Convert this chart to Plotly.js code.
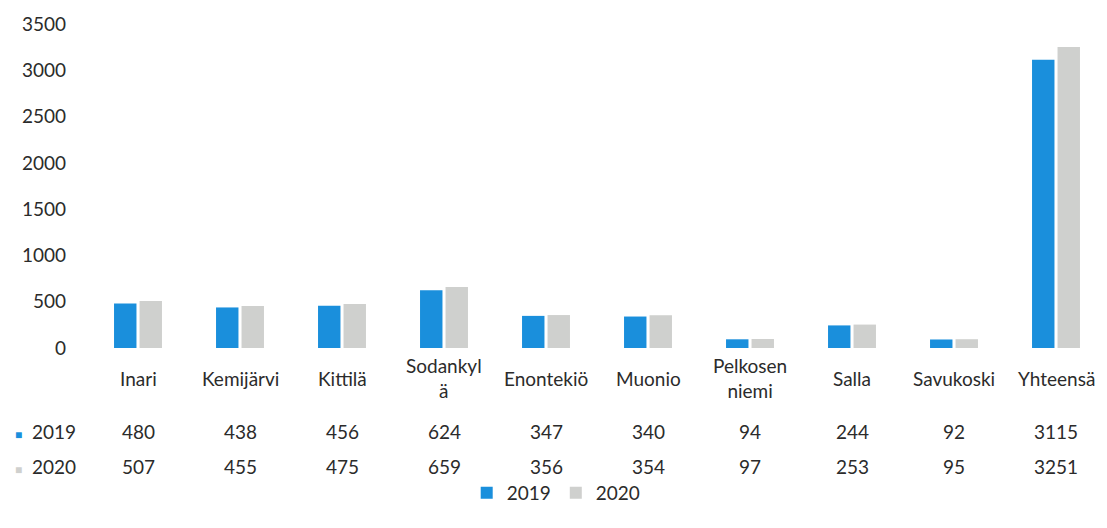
<!DOCTYPE html>
<html>
<head>
<meta charset="utf-8">
<script src="https://cdn.plot.ly/plotly-3.0.1.min.js"></script>
<style>
  html, body { margin: 0; padding: 0; background: #ffffff; }
  #chart { width: 1107px; height: 528px; }
</style>
</head>
<body>
<div id="chart"></div>
<script>
const categories = ["Inari", "Kemijärvi", "Kittilä", "Sodankylä", "Enontekiö", "Muonio", "Pelkosenniemi", "Salla", "Savukoski", "Yhteensä"];
const categoryLabels = ["Inari", "Kemijärvi", "Kittilä", "Sodankyl<br>ä", "Enontekiö", "Muonio", "Pelkosen<br>niemi", "Salla", "Savukoski", "Yhteensä"];
const values2019 = [480, 438, 456, 624, 347, 340, 94, 244, 92, 3115];
const values2020 = [507, 455, 475, 659, 356, 354, 97, 253, 95, 3251];
const yTicks = [0, 500, 1000, 1500, 2000, 2500, 3000, 3500];

const blue = "#1a8fdc";
const gray = "#cfd0ce";
const textColor = "#2b2b2b";
const font = "Lato, 'Open Sans', sans-serif";

// paper y for a pixel row; plot area runs from 24px to 348px
function rowY(py) {
  return (348 - py) / 324;
}

const traces = [
  { x: categories, y: values2019, type: "bar", name: "2019", marker: { color: blue } },
  { x: categories, y: values2020, type: "bar", name: "2020", marker: { color: gray } },
];

// data table under the axis
const annotations = [];
categories.forEach((cat, i) => {
  annotations.push({ x: cat, xref: "x", y: rowY(378), yref: "paper", yanchor: "middle", text: categoryLabels[i], showarrow: false });
  annotations.push({ x: cat, xref: "x", y: rowY(431), yref: "paper", yanchor: "middle", text: String(values2019[i]), showarrow: false });
  annotations.push({ x: cat, xref: "x", y: rowY(466), yref: "paper", yanchor: "middle", text: String(values2020[i]), showarrow: false });
});
[["2019", blue, 431], ["2020", gray, 466]].forEach(([name, color, py]) => {
  annotations.push({
    x: 0, xref: "paper", xshift: -74, xanchor: "left",
    y: rowY(py), yref: "paper", yanchor: "middle",
    text: "<span style='color:" + color + ";font-size:12px'>■</span>  " + name,
    showarrow: false,
  });
});

const layout = {
  width: 1107,
  height: 528,
  margin: { l: 87, r: 0, t: 24, b: 180 },
  paper_bgcolor: "#ffffff",
  plot_bgcolor: "#ffffff",
  font: { family: font, size: 19, color: textColor },
  barmode: "group",
  bargap: 0.5,
  bargroupgap: 0.12,
  xaxis: { showticklabels: false, showline: false, showgrid: false, zeroline: false, ticks: "" },
  yaxis: {
    range: [0, 3500],
    tickvals: yTicks,
    showgrid: false,
    zeroline: false,
    showline: false,
    ticks: "",
    ticklabelstandoff: 20,
    tickfont: { size: 19, color: textColor },
  },
  showlegend: true,
  legend: {
    orientation: "h",
    x: 0.46,
    xanchor: "center",
    y: rowY(493),
    yanchor: "middle",
    font: { size: 19, color: textColor },
    itemwidth: 30,
  },
  annotations: annotations,
};

Plotly.newPlot("chart", traces, layout, { displayModeBar: false, staticPlot: true });
</script>
</body>
</html>
